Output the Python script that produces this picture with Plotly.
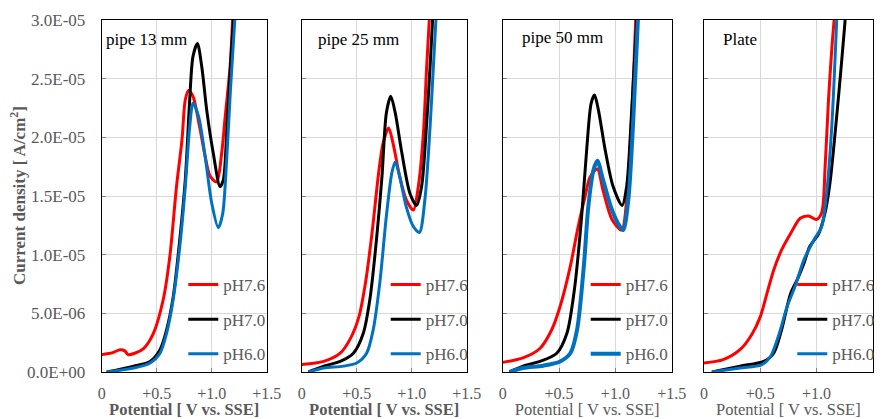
import plotly.graph_objects as go

# ---------------- data ----------------
panel_titles = ["pipe 13 mm", "pipe 25 mm", "pipe 50 mm", "Plate"]
series_names = ["pH7.6", "pH7.0", "pH6.0"]
series_colors = ["#ff0000", "#000000", "#0070c0"]

x_tick_vals = [0, 0.5, 1.0, 1.5]
x_tick_text = ["0", "+0.5", "+1.0", "+1.5"]
y_tick_vals = [0, 5e-6, 1e-5, 1.5e-5, 2e-5, 2.5e-5, 3e-5]
y_tick_text = ["0.0E+00", "5.0E-06", "1.0E-05", "1.5E-05", "2.0E-05", "2.5E-05", "3.0E-05"]

# current density values in units of 1E-06 A/cm2
# ---- pipe 13 mm ----
p13_red_x = [0.0, 0.10, 0.167, 0.21, 0.24, 0.30, 0.38, 0.47, 0.56, 0.62, 0.68, 0.73, 0.76, 0.79, 0.83, 0.89, 0.94, 0.985, 1.045, 1.09, 1.12, 1.167, 1.19]
p13_red_y = [1.48, 1.65, 1.9, 1.8, 1.48, 1.6, 2.0, 3.3, 6.2, 9.9, 15.8, 19.8, 23.2, 24.0, 23.5, 20.9, 18.4, 16.7, 16.2, 18.6, 21.5, 26.0, 30.0]
p13_blk_x = [0.045, 0.29, 0.44, 0.53, 0.59, 0.65, 0.71, 0.76, 0.80, 0.83, 0.87, 0.91, 0.955, 1.015, 1.076, 1.106, 1.136, 1.167, 1.197]
p13_blk_y = [0.0, 0.5, 0.9, 1.9, 3.6, 6.4, 11.3, 16.4, 23.2, 26.9, 28.0, 26.0, 22.3, 18.6, 15.8, 16.4, 20.3, 25.5, 30.0]
p13_blu_x = [0.045, 0.29, 0.44, 0.53, 0.59, 0.65, 0.71, 0.76, 0.80, 0.83, 0.88, 0.94, 1.0, 1.06, 1.10, 1.136, 1.17, 1.21]
p13_blu_y = [0.0, 0.34, 0.77, 1.6, 3.3, 6.2, 10.7, 15.8, 20.9, 22.9, 21.8, 18.4, 14.4, 12.3, 13.5, 18.1, 24.0, 30.0]

# ---- pipe 25 mm ----
p25_red_x = [0.0, 0.20, 0.35, 0.44, 0.52, 0.58, 0.64, 0.70, 0.74, 0.79, 0.83, 0.89, 0.95, 1.015, 1.06, 1.106, 1.136, 1.16]
p25_red_y = [0.63, 0.9, 1.6, 2.8, 4.7, 7.6, 11.9, 17.0, 19.5, 20.8, 19.5, 16.7, 14.7, 13.8, 15.8, 20.3, 26.0, 30.0]
p25_blk_x = [0.06, 0.20, 0.35, 0.47, 0.56, 0.62, 0.68, 0.73, 0.77, 0.81, 0.85, 0.91, 0.985, 1.045, 1.09, 1.136, 1.167, 1.19]
p25_blk_y = [0.0, 0.5, 0.9, 1.6, 3.3, 6.2, 11.3, 16.7, 22.1, 23.5, 22.1, 18.7, 15.2, 14.2, 15.8, 21.2, 26.0, 30.0]
p25_blu_x = [0.06, 0.20, 0.38, 0.50, 0.59, 0.65, 0.71, 0.77, 0.82, 0.85, 0.89, 0.95, 1.015, 1.07, 1.12, 1.167, 1.197, 1.22]
p25_blu_y = [0.0, 0.34, 0.5, 0.77, 1.6, 3.6, 7.6, 13.3, 17.0, 17.9, 16.7, 14.1, 12.4, 11.9, 14.7, 20.9, 26.0, 30.0]

# ---- pipe 50 mm ----
p50_red_x = [0.0, 0.18, 0.33, 0.435, 0.51, 0.60, 0.67, 0.73, 0.775, 0.84, 0.89, 0.97, 1.056, 1.10, 1.145, 1.18]
p50_red_y = [0.82, 1.2, 2.0, 3.6, 5.6, 9.0, 12.4, 14.9, 16.6, 17.3, 15.5, 13.0, 12.1, 14.6, 21.7, 30.0]
p50_blk_x = [0.06, 0.18, 0.33, 0.48, 0.57, 0.64, 0.70, 0.745, 0.785, 0.815, 0.85, 0.91, 0.98, 1.06, 1.10, 1.145, 1.19]
p50_blk_y = [0.0, 0.5, 0.9, 1.6, 3.3, 7.3, 13.2, 18.9, 22.9, 23.6, 22.3, 18.9, 15.8, 14.2, 15.8, 22.3, 30.0]
p50_blu_x = [0.06, 0.18, 0.36, 0.51, 0.60, 0.66, 0.72, 0.76, 0.805, 0.84, 0.89, 0.97, 1.04, 1.07, 1.115, 1.16, 1.20]
p50_blu_y = [0.0, 0.34, 0.54, 0.9, 1.6, 3.6, 9.0, 14.1, 17.2, 18.0, 16.4, 13.8, 12.4, 12.1, 14.7, 21.7, 30.0]

# ---- plate ----
pl_red_x = [0.0, 0.17, 0.32, 0.425, 0.50, 0.56, 0.62, 0.69, 0.77, 0.855, 0.93, 1.0, 1.047, 1.077, 1.107, 1.136, 1.157]
pl_red_y = [0.77, 1.05, 1.9, 3.2, 4.7, 6.7, 8.7, 10.4, 11.8, 13.1, 13.3, 13.0, 13.6, 17.5, 23.2, 27.5, 30.0]
pl_blk_x = [0.07, 0.32, 0.53, 0.62, 0.69, 0.77, 0.83, 0.89, 0.94, 1.02, 1.077, 1.12, 1.18, 1.225, 1.255]
pl_blk_y = [0.0, 0.5, 0.9, 1.6, 3.6, 6.7, 7.9, 9.3, 10.7, 11.8, 13.6, 16.1, 21.8, 26.6, 30.0]
pl_blu_x = [0.07, 0.32, 0.51, 0.59, 0.66, 0.74, 0.81, 0.89, 0.98, 1.047, 1.09, 1.136, 1.18]
pl_blu_y = [0.0, 0.34, 0.6, 1.3, 3.0, 5.6, 7.3, 9.6, 11.3, 12.4, 15.2, 20.9, 30.0]

panel_data = [
    [(p13_red_x, p13_red_y), (p13_blk_x, p13_blk_y), (p13_blu_x, p13_blu_y)],
    [(p25_red_x, p25_red_y), (p25_blk_x, p25_blk_y), (p25_blu_x, p25_blu_y)],
    [(p50_red_x, p50_red_y), (p50_blk_x, p50_blk_y), (p50_blu_x, p50_blu_y)],
    [(pl_red_x, pl_red_y), (pl_blk_x, pl_blk_y), (pl_blu_x, pl_blu_y)],
]

# ---------------- layout geometry ----------------
W, H = 887, 419
FONT = "Liberation Serif"
GRAY = "#595959"

x_px = [(101.7, 266.7), (301.7, 466.7), (502.7, 671.7), (704.0, 872.7)]
y_top, y_bot = 20.0, 372.0
legend_left_px = [183.3, 385.7, 585.7, 792.3]
legend_top_px = 267.0
title_pos = [(0.014, 0.946), (0.087, 0.946), (0.102, 0.951), (0.10, 0.946)]
bold_xtitle = [True, True, False, False]
line_widths = [[3, 3, 3], [3, 3, 3], [3, 3, 4], [3, 3, 3]]

fig = go.Figure()
layout = dict(
    width=W, height=H,
    margin=dict(l=0, r=0, t=0, b=0, autoexpand=False),
    paper_bgcolor="white", plot_bgcolor="white",
    font=dict(family=FONT, color=GRAY),
    annotations=[],
)

for i in range(4):
    xn = "x" if i == 0 else f"x{i+1}"
    yn = "y" if i == 0 else f"y{i+1}"
    ln = "legend" if i == 0 else f"legend{i+1}"
    for j in range(3):
        xs, ys = panel_data[i][j]
        fig.add_trace(go.Scatter(
            x=xs, y=[v * 1e-6 for v in ys],
            mode="lines", name=series_names[j],
            line=dict(color=series_colors[j], width=line_widths[i][j], shape="spline", smoothing=0.8),
            xaxis=xn, yaxis=yn, legend=ln,
            legendgroup=f"p{i}s{j}", showlegend=True,
            hoverinfo="skip",
        ))
    xd = [x_px[i][0] / W, x_px[i][1] / W]
    yd = [1 - y_bot / H, 1 - y_top / H]
    xk = "xaxis" if i == 0 else f"xaxis{i+1}"
    yk = "yaxis" if i == 0 else f"yaxis{i+1}"
    title_txt = "Potential [ V vs. SSE]"
    layout[xk] = dict(
        domain=xd, anchor=yn, range=[0, 1.5],
        tickvals=x_tick_vals, ticktext=x_tick_text,
        tickfont=dict(family=FONT, size=16, color=GRAY),
        showgrid=True, gridcolor="#d9d9d9", gridwidth=1,
        zeroline=False, showline=True, linecolor="#000000", linewidth=1, mirror=True,
        ticks="inside", ticklen=4, tickcolor="#7f7f7f",
        ticklabelstandoff=7, automargin=False,
        title=dict(text=(f"<b>{title_txt}</b>" if bold_xtitle[i] else title_txt),
                   font=dict(family=FONT, size=16.5, color=GRAY), standoff=2),
        fixedrange=True,
    )
    layout[yk] = dict(
        domain=yd, anchor=xn, range=[0, 3e-5],
        tickvals=y_tick_vals, ticktext=y_tick_text,
        showticklabels=(i == 0),
        tickfont=dict(family=FONT, size=17, color=GRAY),
        showgrid=True, gridcolor="#d9d9d9", gridwidth=1,
        zeroline=False, showline=True, linecolor="#000000", linewidth=1, mirror=True,
        ticks="inside", ticklen=4, tickcolor="#7f7f7f",
        ticklabelstandoff=12, automargin=False,
        fixedrange=True,
    )
    layout[ln] = dict(
        x=legend_left_px[i] / W, y=1 - legend_top_px / H,
        xanchor="left", yanchor="top",
        bgcolor="rgba(0,0,0,0)", borderwidth=0,
        font=dict(family=FONT, size=17, color=GRAY),
        itemwidth=30, tracegroupgap=9.5,
    )
    layout["annotations"].append(dict(
        text=panel_titles[i], xref=f"{xn} domain", yref=f"{yn} domain",
        x=title_pos[i][0], y=title_pos[i][1], xanchor="left", yanchor="middle",
        showarrow=False, font=dict(family=FONT, size=17, color="#000000"),
    ))

# y-axis title of the first panel
layout["annotations"].append(dict(
    text="<b>Current density [ A/cm<sup>2</sup>]</b>", xref="paper", yref="paper",
    x=18 / W, y=1 - 196 / H, xanchor="center", yanchor="middle", textangle=-90,
    showarrow=False, font=dict(family=FONT, size=17, color=GRAY),
))

fig.update_layout(**layout)
fig.write_html("out.html", config={"displayModeBar": False},
               post_script="document.body.style.margin='0';")
